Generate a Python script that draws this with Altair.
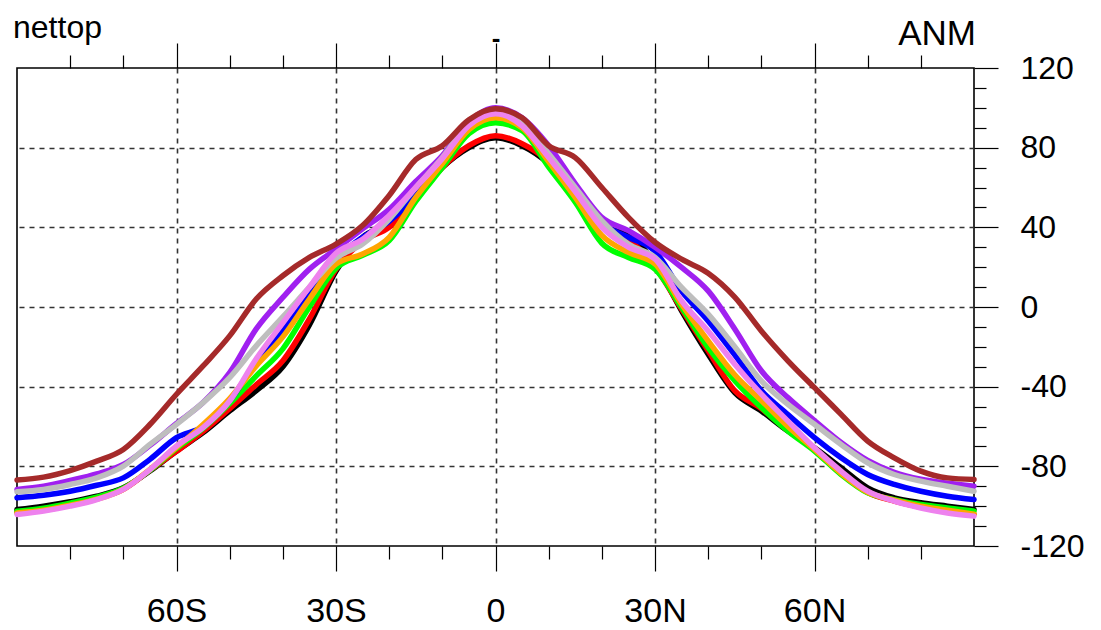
import altair as alt
import pandas as pd

lats = list(range(-90, 91, 5))

black = [-101.7, -100, -97.8, -95, -90.8, -82.4, -72.3, -63.1, -52.2, -42, -30, -9, 18, 35, 42, 55, 70, 80, 85,
         81, 72, 57, 41, 36, 22, -1.9, -23.7, -43, -52.2, -62.3, -70.7, -80.7, -90.8, -95.8, -98.3, -100, -101.7]
red = [-103, -101.5, -99, -96, -91.5, -82, -72.5, -62.5, -51, -39, -27, -6, 19, 33, 40, 54, 70, 81, 86,
       82, 73, 57, 41, 34, 20, -1, -22, -42, -51, -62, -71.5, -83, -93, -97.5, -100.5, -102.5, -104]
green = [-102.5, -101, -98.5, -95.5, -91, -82, -71, -61, -48.5, -34.6, -21, 0, 19.5, 26, 33.3, 53, 70, 87, 92.5,
         88.5, 70.2, 52.6, 32, 24.9, 19, -0.2, -20.4, -37, -50.5, -62.3, -72.3, -84.1, -93.3, -96.7, -99.2, -100.9, -102.5]
blue = [-95.8, -94.5, -92.5, -89.5, -85.8, -76.5, -65.6, -60, -47, -28, -12, 6, 24, 35, 43, 56, 73, 90, 96,
        91, 76, 58, 42, 35, 28, 8, -7, -24, -42, -54, -65.6, -75.7, -84.1, -89.1, -92.5, -95, -96.7]
orange = [-103.4, -102, -99.5, -96.5, -91.5, -81.5, -70.5, -59, -46, -29.6, -15, 4, 21.6, 26.6, 35, 55, 72, 89, 95,
          90, 73, 55, 36, 27.4, 21.6, 1.4, -17, -34, -47, -60, -71.5, -83.5, -93, -97, -100, -102, -104]
purple = [-91.6, -90, -87.1, -83.8, -79.1, -69.5, -58.5, -48, -33, -11, 4.8, 19, 29.1, 39.2, 49, 63, 76, 93, 100,
          95, 81, 62, 45, 38.3, 30, 19.9, 8.1, -11, -32, -45.5, -57, -68, -77, -83, -86.5, -88.5, -90]
gray = [-92.8, -91.6, -89.1, -85.8, -79.9, -69, -58.9, -48, -35.5, -19.5, -5, 10, 24.5, 31.6, 44, 60, 75, 92, 97.5,
        92, 77, 60, 43.4, 31.6, 24.9, 9.8, -3.6, -20, -37.1, -48.9, -58.9, -69, -78.2, -84.1, -87.4, -90, -92.5]
violet = [-104.2, -102.5, -100, -96.7, -91.6, -81.6, -69.8, -60.6, -47.2, -26, -8, 10, 27, 34, 46, 60, 74.5, 91, 97,
          91, 75, 58, 40, 30, 24.1, 3.1, -12, -28.7, -43.8, -57.3, -70.7, -82.4, -92.5, -97.5, -100.9, -103.4, -105]
brown = [-86.9, -85.4, -82.1, -77.4, -71.5, -59, -43.8, -29.6, -14.5, 4, 15.7, 24.9, 31.6, 40.9, 56, 74, 81, 94, 99.5,
         95, 81, 75, 60, 45, 32.5, 24, 17, 5, -12, -27, -40.5, -53.9, -67.3, -75.7, -82.4, -85.8, -86.6]

series_names = ["black", "red", "green", "blue", "orange", "purple", "gray", "violet", "brown"]
series_vals = [black, red, green, blue, orange, purple, gray, violet, brown]
series_colors = ["#000000", "#FF0000", "#00FF00", "#0000FF", "#FFA500", "#A020F0", "#BEBEBE", "#EE82EE", "#A52A2A"]

x_ticks = list(range(-80, 81, 10))
y_ticks = list(range(-120, 121, 10))

title_left = "nettop"
title_center = "-"
title_right = "ANM"

rows = []
for name, vals in zip(series_names, series_vals):
    for lat, v in zip(lats, vals):
        rows.append({"lat": lat, "val": v, "series": name})
df = pd.DataFrame(rows)

FONT = "Liberation Sans"
xscale = alt.Scale(domain=[-90, 90], nice=False, zero=False)
yscale = alt.Scale(domain=[-120, 120], nice=False, zero=False)

x_major = "datum.value % 30 === 0"
y_major = "datum.value % 40 === 0"

bottom_axis = alt.Axis(
    orient="bottom", values=x_ticks, title=None, domain=False,
    labelExpr="datum.value === 0 ? '0' : (datum.value % 30 === 0 ? (abs(datum.value) + (datum.value < 0 ? 'S' : 'N')) : '')",
    labelFont=FONT, labelFontSize=34, labelColor="black", labelPadding=23, labelAngle=0,
    labelOverlap=False, labelFlush=False,
    tickColor="black", tickWidth=1.2,
    tickSize={"condition": {"test": x_major, "value": 25}, "value": 13},
    grid=True, gridColor="#333333", gridDash=[5, 5], gridWidth=1.6,
    gridOpacity={"condition": {"test": x_major, "value": 1}, "value": 0},
)
top_axis = alt.Axis(
    orient="top", values=x_ticks, title=None, domain=False, labels=False,
    tickColor="black", tickWidth=1.2,
    tickSize={"condition": {"test": x_major, "value": 25}, "value": 13},
    grid=False,
)
right_axis = alt.Axis(
    orient="right", values=y_ticks, title=None, domain=False,
    labelExpr="datum.value % 40 === 0 ? ('' + datum.value) : ''",
    labelFont=FONT, labelFontSize=32, labelColor="black", labelPadding=22,
    labelOverlap=False, labelFlush=False, labelAlign="left", labelBaseline="middle",
    tickColor="black", tickWidth=1.2,
    tickSize={"condition": {"test": y_major, "value": 24}, "value": 12},
    grid=True, gridColor="#333333", gridDash=[5, 5], gridWidth=1.6,
    gridOpacity={"condition": {"test": "datum.value % 40 === 0 && abs(datum.value) < 120", "value": 1}, "value": 0},
)

base = alt.Chart(df)

axis_layer = base.mark_line(strokeOpacity=0).encode(
    x=alt.X("lat:Q", scale=xscale, axis=bottom_axis),
    y=alt.Y("val:Q", scale=yscale, axis=right_axis),
    detail="series:N",
)
top_layer = base.mark_line(strokeOpacity=0).encode(
    x=alt.X("lat:Q", scale=xscale, axis=top_axis),
    y=alt.Y("val:Q", scale=yscale, axis=None),
    detail="series:N",
)

line_layers = []
for name, color in zip(series_names, series_colors):
    line_layers.append(
        base.transform_filter(alt.datum.series == name)
        .mark_line(color=color, strokeWidth=5.5, interpolate="monotone", strokeCap="round", strokeJoin="round")
        .encode(
            x=alt.X("lat:Q", scale=xscale, axis=None),
            y=alt.Y("val:Q", scale=yscale, axis=None),
        )
    )

t_left = alt.Chart(pd.DataFrame({"t": [title_left]})).mark_text(
    font=FONT, fontSize=32, align="left", baseline="alphabetic", color="black"
).encode(text="t:N", x=alt.value(-4), y=alt.value(-30))
t_center = alt.Chart(pd.DataFrame({"t": [title_center]})).mark_text(
    font=FONT, fontSize=26, fontWeight="bold", align="center", baseline="alphabetic", color="black"
).encode(text="t:N", x=alt.value(479), y=alt.value(-21))
t_right = alt.Chart(pd.DataFrame({"t": [title_right]})).mark_text(
    font=FONT, fontSize=35, align="right", baseline="alphabetic", color="black"
).encode(text="t:N", x=alt.value(959), y=alt.value(-23))

chart = alt.layer(axis_layer, top_layer, *line_layers, t_left, t_center, t_right).resolve_axis(
    x="independent", y="independent"
).properties(
    width=957, height=478,
    autosize=alt.AutoSizeParams(type="none"),
    padding={"left": 9, "top": 60, "right": 110, "bottom": 82},
).configure_view(stroke="black", strokeWidth=1.6)

chart.save("out.html", embed_options={"renderer": "svg", "actions": False})
